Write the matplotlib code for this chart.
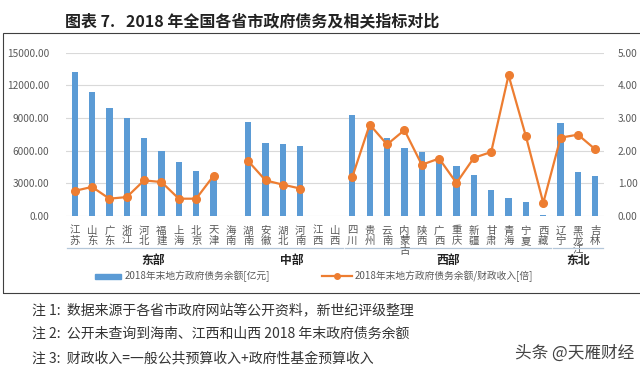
import numpy as np
import matplotlib
matplotlib.use('Agg')
import matplotlib.pyplot as plt
from matplotlib.patches import Rectangle
from matplotlib.lines import Line2D
from matplotlib.transforms import blended_transform_factory

plt.rcParams['font.family'] = ['Noto Sans CJK SC', 'DejaVu Sans']

# 省份（按区域排列）
provinces = ['江苏', '山东', '广东', '浙江', '河北', '福建', '上海', '北京', '天津', '海南',
             '湖南', '安徽', '湖北', '河南', '江西', '山西',
             '四川', '贵州', '云南', '内蒙古', '陕西', '广西', '重庆', '新疆', '甘肃', '青海', '宁夏', '西藏',
             '辽宁', '黑龙江', '吉林']
# 2018年末地方政府债务余额[亿元]，缺失为 nan
debt = [13250, 11380, 9880, 8960, 7210, 5980, 4970, 4140, 3600, np.nan,
        8650, 6660, 6600, 6470, np.nan, np.nan,
        9260, 8300, 7120, 6290, 5890, 5430, 4600, 3800, 2420, 1690, 1320, 120,
        8500, 4050, 3650]
# 债务余额/财政收入[倍]
ratio = [0.77, 0.89, 0.53, 0.58, 1.09, 1.04, 0.53, 0.53, 1.23, np.nan,
         1.68, 1.09, 0.96, 0.84, np.nan, np.nan,
         1.20, 2.80, 2.19, 2.63, 1.57, 1.76, 1.01, 1.78, 1.96, 4.31, 2.44, 0.40,
         2.40, 2.49, 2.04]
groups = ['东部', '中部', '西部', '东北']
group_ranges = [(0, 9), (10, 15), (16, 27), (28, 30)]

grey = '#595959'
fig = plt.figure(figsize=(6.4, 3.72), dpi=100)

# 外框和标题
fig.patches.append(Rectangle((3 / 640, 1 - 293 / 372), 700 / 640, 260 / 372,
                             transform=fig.transFigure, fill=False, ec='#404040', lw=0.8))
fig.text(65 / 640, 1 - 21 / 372, '图表 7.   2018 年全国各省市政府债务及相关指标对比',
         fontsize=11.5, fontweight='bold', color='#222222', va='center')

ax = fig.add_axes([66 / 640, 1 - 216 / 372, 538 / 640, 163.3 / 372])
x = np.arange(len(provinces))
ax.bar(x, debt, width=0.36, color='#5B9BD5', zorder=2)
ax.set_ylim(0, 15000)
ax.set_xlim(-0.5, len(provinces) - 0.5)
ax.set_yticks(np.arange(0, 15001, 3000))
ax.set_yticklabels(['%.2f' % v for v in np.arange(0, 15001, 3000)], fontsize=7.3, color=grey)
ax.grid(axis='y', color='#D9D9D9', lw=0.8, zorder=0)
ax.set_xticks(x)
ax.set_xticklabels(['\n'.join(p) for p in provinces], fontsize=7.5, color=grey, linespacing=1.0, va='top')
ax.tick_params(length=0, pad=7)
ax.tick_params(axis='y', pad=12)
for s in ax.spines.values():
    s.set_visible(False)

ax2 = ax.twinx()
ax2.plot(x, ratio, color='#ED7D31', lw=1.6, marker='o', ms=5.5, zorder=3)
ax2.set_ylim(0, 5)
ax2.set_yticks(np.arange(0, 6))
ax2.set_yticklabels(['%.2f' % v for v in range(6)], fontsize=7.3, color=grey)
ax2.tick_params(length=0, pad=10)
for s in ax2.spines.values():
    s.set_visible(False)

# 区域分组线和标签
tr = blended_transform_factory(ax.transData, ax.transAxes)
for g, (a, b) in zip(groups, group_ranges):
    ax.add_line(Line2D([a - 0.45, b + 0.45], [-0.196, -0.196], transform=tr,
                       color='#B4C7D9', lw=0.9, clip_on=False))
    ax.text((a + b) / 2, -0.275, g, transform=tr, ha='center', va='center',
            fontsize=8.5, fontweight='bold', color='#222222')

# 图例
fig.patches.append(Rectangle((95 / 640, 1 - 279 / 372), 26 / 640, 5 / 372,
                             transform=fig.transFigure, color='#5B9BD5'))
fig.text(125 / 640, 1 - 276 / 372, '2018年末地方政府债务余额[亿元]', fontsize=7, color=grey, va='center')
fig.lines.append(Line2D([322 / 640, 352 / 640], [1 - 276 / 372] * 2, transform=fig.transFigure,
                        color='#ED7D31', lw=1.6))
fig.lines.append(Line2D([337 / 640], [1 - 276 / 372], transform=fig.transFigure,
                        color='#ED7D31', marker='o', ms=4))
fig.text(355 / 640, 1 - 276 / 372, '2018年末地方政府债务余额/财政收入[倍]', fontsize=7, color=grey, va='center')

# 注释
notes = ['注 1:  数据来源于各省市政府网站等公开资料，新世纪评级整理',
         '注 2:  公开未查询到海南、江西和山西 2018 年末政府债务余额',
         '注 3:  财政收入=一般公共预算收入+政府性基金预算收入']
for i, n in enumerate(notes):
    fig.text(32 / 640, 1 - (310 + 24 * i) / 372, n, fontsize=10, color='#333333', va='center')
fig.text(515 / 640, 1 - 353 / 372, '头条 @天雁财经', fontsize=12, color='#444444', va='center')

fig.savefig('out.png', dpi=100)
